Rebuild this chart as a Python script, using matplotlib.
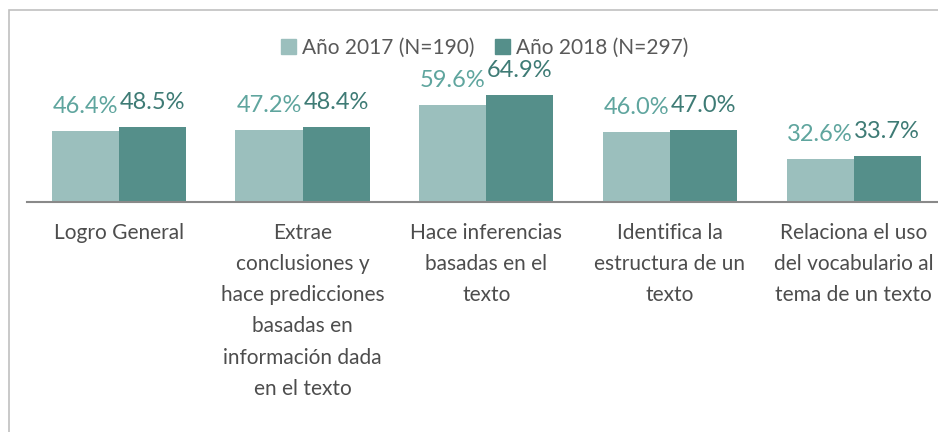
import numpy as np
from matplotlib import pyplot as plt
from matplotlib.patches import Rectangle, Patch

plt.rcParams['font.family'] = ['Lato', 'DejaVu Sans']

categories = ["Logro General",
              "Extrae\nconclusiones y\nhace predicciones\nbasadas en\ninformación dada\nen el texto",
              "Hace inferencias\nbasadas en el\ntexto",
              "Identifica la\nestructura de un\ntexto",
              "Relaciona el uso\ndel vocabulario al\ntema de un texto"]
values_2017 = [46.4, 47.2, 59.6, 46.0, 32.6]
values_2018 = [48.5, 48.4, 64.9, 47.0, 33.7]
series_names = ["Año 2017 (N=190)", "Año 2018 (N=297)"]

c_light = '#9bbfbd'
c_dark = '#558f8a'
c_lab_light = '#5fa59e'
c_lab_dark = '#3e7b75'

W, H = 938, 432
fig = plt.figure(figsize=(W / 100, H / 100), dpi=100)

# axes placed in pixel terms
ax = fig.add_axes([27 / W, 1 - 202 / H, 918.5 / W, 172 / H])

x = np.arange(len(categories))
bw = 0.365
b1 = ax.bar(x - bw / 2, values_2017, bw, color=c_light)
b2 = ax.bar(x + bw / 2, values_2018, bw, color=c_dark)

for rect, v in zip(b1, values_2017):
    ax.annotate(f"{v:.1f}%", (rect.get_x() + rect.get_width() / 2, v),
                xytext=(0, 13), textcoords='offset points', ha='center',
                va='baseline', fontsize=17, color=c_lab_light)
for rect, v in zip(b2, values_2018):
    ax.annotate(f"{v:.1f}%", (rect.get_x() + rect.get_width() / 2, v),
                xytext=(0, 13), textcoords='offset points', ha='center',
                va='baseline', fontsize=17, color=c_lab_dark)

ax.set_xlim(-0.5, len(categories) - 0.5)
ax.set_ylim(10.6, 10.6 + 172 / 1.972)
ax.set_yticks([])
ax.set_xticks(x)
ax.set_xticklabels(categories, fontsize=15, color='#4d4d4d', linespacing=1.7)
ax.tick_params(axis='x', length=0, pad=15)
for s in ['top', 'left', 'right']:
    ax.spines[s].set_visible(False)
ax.spines['bottom'].set_color('#898989')
ax.spines['bottom'].set_linewidth(1.5)

handles = [Patch(color=c_light), Patch(color=c_dark)]
fig.legend(handles, series_names, loc='center', bbox_to_anchor=(485 / W, 1 - 48 / H),
           ncol=2, frameon=False, fontsize=15, labelcolor='#595959',
           handlelength=0.7, handleheight=0.7, handletextpad=0.3, columnspacing=1.0)

# chart border (right and bottom edges are cropped in the original)
fig.patches.append(Rectangle((9 / W, -0.1), 1.2, (H - 10) / H + 0.1,
                             transform=fig.transFigure, fill=False,
                             ec='#c0c0c0', lw=1.2))

fig.savefig('out.png', dpi=100)
